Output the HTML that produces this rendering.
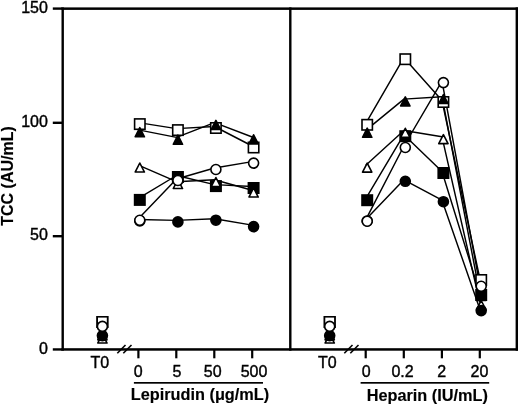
<!DOCTYPE html>
<html><head><meta charset="utf-8"><style>
html,body{margin:0;padding:0;background:#fff;width:520px;height:406px;overflow:hidden}
svg{display:block;filter:grayscale(1)}
</style></head><body>
<svg width="520" height="406" viewBox="0 0 520 406"><g fill="#000">
<rect x="61.50" y="7.40" width="456.50" height="2.50"/>
<rect x="61.50" y="7.40" width="2.40" height="343.30"/>
<rect x="289.10" y="7.40" width="2.40" height="343.30"/>
<rect x="515.60" y="7.40" width="2.40" height="343.30"/>
<rect x="61.50" y="348.20" width="456.50" height="2.50"/>
<rect x="52.80" y="7.40" width="9.20" height="2.40"/>
<rect x="52.80" y="121.60" width="9.20" height="2.40"/>
<rect x="52.80" y="235.00" width="9.20" height="2.40"/>
<rect x="52.80" y="348.25" width="9.20" height="2.40"/>
<rect x="137.30" y="349.00" width="2.20" height="9.30"/>
<rect x="175.20" y="349.00" width="2.20" height="9.30"/>
<rect x="213.20" y="349.00" width="2.20" height="9.30"/>
<rect x="251.10" y="349.00" width="2.20" height="9.30"/>
<rect x="364.60" y="349.00" width="2.20" height="9.30"/>
<rect x="402.70" y="349.00" width="2.20" height="9.30"/>
<rect x="440.80" y="349.00" width="2.20" height="9.30"/>
<rect x="478.70" y="349.00" width="2.20" height="9.30"/>
<rect x="133.90" y="382.00" width="129.10" height="1.70"/>
<rect x="360.60" y="382.00" width="128.60" height="1.70"/>
</g>
<line x1="117.30" y1="353.2" x2="125.50" y2="345.0" stroke="#000" stroke-width="1.6"/><line x1="123.30" y1="353.2" x2="131.50" y2="345.0" stroke="#000" stroke-width="1.6"/>
<line x1="344.30" y1="353.2" x2="352.50" y2="345.0" stroke="#000" stroke-width="1.6"/><line x1="350.30" y1="353.2" x2="358.50" y2="345.0" stroke="#000" stroke-width="1.6"/>
<text x="47.9" y="12.8" text-anchor="end" style="font-family:'Liberation Sans',sans-serif;font-size:16px;font-weight:normal;stroke:#000;stroke-width:0.4px;" >150</text>
<text x="47.9" y="126.8" text-anchor="end" style="font-family:'Liberation Sans',sans-serif;font-size:16px;font-weight:normal;stroke:#000;stroke-width:0.4px;" >100</text>
<text x="47.9" y="239.7" text-anchor="end" style="font-family:'Liberation Sans',sans-serif;font-size:16px;font-weight:normal;stroke:#000;stroke-width:0.4px;" >50</text>
<text x="47.9" y="353.6" text-anchor="end" style="font-family:'Liberation Sans',sans-serif;font-size:16px;font-weight:normal;stroke:#000;stroke-width:0.4px;" >0</text>
<text x="99.9" y="367.6" text-anchor="middle" style="font-family:'Liberation Sans',sans-serif;font-size:16px;font-weight:normal;stroke:#000;stroke-width:0.4px;" >T0</text>
<text x="327.3" y="367.8" text-anchor="middle" style="font-family:'Liberation Sans',sans-serif;font-size:16px;font-weight:normal;stroke:#000;stroke-width:0.4px;" >T0</text>
<text x="138.1" y="377.2" text-anchor="middle" style="font-family:'Liberation Sans',sans-serif;font-size:16px;font-weight:normal;stroke:#000;stroke-width:0.4px;" >0</text>
<text x="177.0" y="377.2" text-anchor="middle" style="font-family:'Liberation Sans',sans-serif;font-size:16px;font-weight:normal;stroke:#000;stroke-width:0.4px;" >5</text>
<text x="212.7" y="377.2" text-anchor="middle" style="font-family:'Liberation Sans',sans-serif;font-size:16px;font-weight:normal;stroke:#000;stroke-width:0.4px;" >50</text>
<text x="254.0" y="377.2" text-anchor="middle" style="font-family:'Liberation Sans',sans-serif;font-size:16px;font-weight:normal;stroke:#000;stroke-width:0.4px;" >500</text>
<text x="366.1" y="377.3" text-anchor="middle" style="font-family:'Liberation Sans',sans-serif;font-size:16px;font-weight:normal;stroke:#000;stroke-width:0.4px;" >0</text>
<text x="402.5" y="377.3" text-anchor="middle" style="font-family:'Liberation Sans',sans-serif;font-size:16px;font-weight:normal;stroke:#000;stroke-width:0.4px;" >0.2</text>
<text x="441.6" y="377.3" text-anchor="middle" style="font-family:'Liberation Sans',sans-serif;font-size:16px;font-weight:normal;stroke:#000;stroke-width:0.4px;" >2</text>
<text x="479.4" y="377.3" text-anchor="middle" style="font-family:'Liberation Sans',sans-serif;font-size:16px;font-weight:normal;stroke:#000;stroke-width:0.4px;" >20</text>
<text x="200.0" y="400.2" text-anchor="middle" style="font-family:'Liberation Sans',sans-serif;font-size:16.3px;font-weight:bold;stroke:#000;stroke-width:0.15px;" >Lepirudin (&#956;g/mL)</text>
<text x="427.3" y="400.8" text-anchor="middle" style="font-family:'Liberation Sans',sans-serif;font-size:16.3px;font-weight:bold;stroke:#000;stroke-width:0.15px;" >Heparin (IU/mL)</text>
<text x="0" y="0" text-anchor="middle" style="font-family:'Liberation Sans',sans-serif;font-size:16px;font-weight:bold;stroke:#000;stroke-width:0.15px;" transform="translate(13.0,176.0) rotate(-90)">TCC (AU/mL)</text>
<polyline points="138.40,122.60 176.50,128.60 214.50,126.50 252.20,146.00" fill="none" stroke="#000" stroke-width="1.45" stroke-linejoin="round"/>
<polyline points="365.80,123.30 403.90,57.70 442.00,100.50 479.80,278.50" fill="none" stroke="#000" stroke-width="1.45" stroke-linejoin="round"/>
<polyline points="138.40,198.40 176.50,175.50 214.50,184.60 252.20,186.50" fill="none" stroke="#000" stroke-width="1.45" stroke-linejoin="round"/>
<polyline points="365.80,198.70 403.90,134.70 442.00,171.50 479.80,293.50" fill="none" stroke="#000" stroke-width="1.45" stroke-linejoin="round"/>
<polyline points="138.40,129.90 176.50,137.40 214.50,122.60 252.20,137.00" fill="none" stroke="#000" stroke-width="1.45" stroke-linejoin="round"/>
<polyline points="365.80,130.40 403.90,99.10 442.00,96.70 479.80,293.70" fill="none" stroke="#000" stroke-width="1.45" stroke-linejoin="round"/>
<polyline points="138.40,165.20 176.50,181.70 214.50,179.70 252.20,190.20" fill="none" stroke="#000" stroke-width="1.45" stroke-linejoin="round"/>
<polyline points="365.80,165.30 403.90,130.50 442.00,136.80 479.80,302.70" fill="none" stroke="#000" stroke-width="1.45" stroke-linejoin="round"/>
<polyline points="138.40,219.50 176.50,220.40 214.50,218.70 252.20,225.10" fill="none" stroke="#000" stroke-width="1.45" stroke-linejoin="round"/>
<polyline points="365.80,219.50 403.90,179.80 442.00,200.20 479.80,309.10" fill="none" stroke="#000" stroke-width="1.45" stroke-linejoin="round"/>
<polyline points="138.40,218.80 176.50,179.00 214.50,168.00 252.20,161.60" fill="none" stroke="#000" stroke-width="1.45" stroke-linejoin="round"/>
<polyline points="365.80,219.70 403.90,146.00 442.00,81.10 479.80,284.80" fill="none" stroke="#000" stroke-width="1.45" stroke-linejoin="round"/>
<rect x="134.60" y="118.90" width="10.40" height="10.40" fill="#fff" stroke="#000" stroke-width="1.6"/>
<rect x="172.70" y="124.90" width="10.40" height="10.40" fill="#fff" stroke="#000" stroke-width="1.6"/>
<rect x="210.70" y="122.80" width="10.40" height="10.40" fill="#fff" stroke="#000" stroke-width="1.6"/>
<rect x="248.40" y="142.30" width="10.40" height="10.40" fill="#fff" stroke="#000" stroke-width="1.6"/>
<rect x="362.00" y="119.60" width="10.40" height="10.40" fill="#fff" stroke="#000" stroke-width="1.6"/>
<rect x="400.10" y="54.00" width="10.40" height="10.40" fill="#fff" stroke="#000" stroke-width="1.6"/>
<rect x="438.20" y="96.80" width="10.40" height="10.40" fill="#fff" stroke="#000" stroke-width="1.6"/>
<rect x="476.00" y="274.80" width="10.40" height="10.40" fill="#fff" stroke="#000" stroke-width="1.6"/>
<rect x="134.60" y="194.70" width="10.40" height="10.40" fill="#000" stroke="#000" stroke-width="1.6"/>
<rect x="172.70" y="171.80" width="10.40" height="10.40" fill="#000" stroke="#000" stroke-width="1.6"/>
<rect x="210.70" y="180.90" width="10.40" height="10.40" fill="#000" stroke="#000" stroke-width="1.6"/>
<rect x="248.40" y="182.80" width="10.40" height="10.40" fill="#000" stroke="#000" stroke-width="1.6"/>
<rect x="362.00" y="195.00" width="10.40" height="10.40" fill="#000" stroke="#000" stroke-width="1.6"/>
<rect x="400.10" y="131.00" width="10.40" height="10.40" fill="#000" stroke="#000" stroke-width="1.6"/>
<rect x="438.20" y="167.80" width="10.40" height="10.40" fill="#000" stroke="#000" stroke-width="1.6"/>
<rect x="476.00" y="289.80" width="10.40" height="10.40" fill="#000" stroke="#000" stroke-width="1.6"/>
<polygon points="139.80,127.70 144.45,136.75 135.15,136.75" fill="#000" stroke="#000" stroke-width="1.6" stroke-linejoin="round"/>
<polygon points="177.90,135.20 182.55,144.25 173.25,144.25" fill="#000" stroke="#000" stroke-width="1.6" stroke-linejoin="round"/>
<polygon points="215.90,120.40 220.55,129.45 211.25,129.45" fill="#000" stroke="#000" stroke-width="1.6" stroke-linejoin="round"/>
<polygon points="253.60,134.80 258.25,143.85 248.95,143.85" fill="#000" stroke="#000" stroke-width="1.6" stroke-linejoin="round"/>
<polygon points="367.20,128.20 371.85,137.25 362.55,137.25" fill="#000" stroke="#000" stroke-width="1.6" stroke-linejoin="round"/>
<polygon points="405.30,96.90 409.95,105.95 400.65,105.95" fill="#000" stroke="#000" stroke-width="1.6" stroke-linejoin="round"/>
<polygon points="443.40,94.50 448.05,103.55 438.75,103.55" fill="#000" stroke="#000" stroke-width="1.6" stroke-linejoin="round"/>
<polygon points="481.20,291.50 485.85,300.55 476.55,300.55" fill="#000" stroke="#000" stroke-width="1.6" stroke-linejoin="round"/>
<polygon points="139.80,163.00 144.45,172.05 135.15,172.05" fill="#fff" stroke="#000" stroke-width="1.6" stroke-linejoin="round"/>
<polygon points="177.90,179.50 182.55,188.55 173.25,188.55" fill="#fff" stroke="#000" stroke-width="1.6" stroke-linejoin="round"/>
<polygon points="215.90,177.50 220.55,186.55 211.25,186.55" fill="#fff" stroke="#000" stroke-width="1.6" stroke-linejoin="round"/>
<polygon points="253.60,188.00 258.25,197.05 248.95,197.05" fill="#fff" stroke="#000" stroke-width="1.6" stroke-linejoin="round"/>
<polygon points="367.20,163.10 371.85,172.15 362.55,172.15" fill="#fff" stroke="#000" stroke-width="1.6" stroke-linejoin="round"/>
<polygon points="405.30,128.30 409.95,137.35 400.65,137.35" fill="#fff" stroke="#000" stroke-width="1.6" stroke-linejoin="round"/>
<polygon points="443.40,134.60 448.05,143.65 438.75,143.65" fill="#fff" stroke="#000" stroke-width="1.6" stroke-linejoin="round"/>
<polygon points="481.20,300.50 485.85,309.55 476.55,309.55" fill="#fff" stroke="#000" stroke-width="1.6" stroke-linejoin="round"/>
<circle cx="139.80" cy="221.00" r="5.00" fill="#000" stroke="#000" stroke-width="1.6"/>
<circle cx="177.90" cy="221.90" r="5.00" fill="#000" stroke="#000" stroke-width="1.6"/>
<circle cx="215.90" cy="220.20" r="5.00" fill="#000" stroke="#000" stroke-width="1.6"/>
<circle cx="253.60" cy="226.60" r="5.00" fill="#000" stroke="#000" stroke-width="1.6"/>
<circle cx="367.20" cy="221.00" r="5.00" fill="#000" stroke="#000" stroke-width="1.6"/>
<circle cx="405.30" cy="181.30" r="5.00" fill="#000" stroke="#000" stroke-width="1.6"/>
<circle cx="443.40" cy="201.70" r="5.00" fill="#000" stroke="#000" stroke-width="1.6"/>
<circle cx="481.20" cy="310.60" r="5.00" fill="#000" stroke="#000" stroke-width="1.6"/>
<circle cx="139.80" cy="220.30" r="5.00" fill="#fff" stroke="#000" stroke-width="1.6"/>
<circle cx="177.90" cy="180.50" r="5.00" fill="#fff" stroke="#000" stroke-width="1.6"/>
<circle cx="215.90" cy="169.50" r="5.00" fill="#fff" stroke="#000" stroke-width="1.6"/>
<circle cx="253.60" cy="163.10" r="5.00" fill="#fff" stroke="#000" stroke-width="1.6"/>
<circle cx="367.20" cy="221.20" r="5.00" fill="#fff" stroke="#000" stroke-width="1.6"/>
<circle cx="405.30" cy="147.50" r="5.00" fill="#fff" stroke="#000" stroke-width="1.6"/>
<circle cx="443.40" cy="82.60" r="5.00" fill="#fff" stroke="#000" stroke-width="1.6"/>
<circle cx="481.20" cy="286.30" r="5.00" fill="#fff" stroke="#000" stroke-width="1.6"/>
<rect x="97.20" y="316.80" width="10.40" height="10.40" fill="#000" stroke="#000" stroke-width="1.6"/>
<rect x="324.50" y="316.80" width="10.40" height="10.40" fill="#000" stroke="#000" stroke-width="1.6"/>
<rect x="97.20" y="316.80" width="10.40" height="10.40" fill="#fff" stroke="#000" stroke-width="1.6"/>
<rect x="324.50" y="316.80" width="10.40" height="10.40" fill="#fff" stroke="#000" stroke-width="1.6"/>
<polygon points="102.40,334.00 107.05,343.05 97.75,343.05" fill="#fff" stroke="#000" stroke-width="1.6" stroke-linejoin="round"/>
<polygon points="329.70,334.00 334.35,343.05 325.05,343.05" fill="#fff" stroke="#000" stroke-width="1.6" stroke-linejoin="round"/>
<polygon points="102.40,330.80 107.05,339.85 97.75,339.85" fill="#000" stroke="#000" stroke-width="1.6" stroke-linejoin="round"/>
<polygon points="329.70,330.80 334.35,339.85 325.05,339.85" fill="#000" stroke="#000" stroke-width="1.6" stroke-linejoin="round"/>
<circle cx="102.40" cy="335.60" r="5.00" fill="#000" stroke="#000" stroke-width="1.6"/>
<circle cx="329.70" cy="335.60" r="5.00" fill="#000" stroke="#000" stroke-width="1.6"/>
<circle cx="102.40" cy="326.40" r="5.00" fill="#fff" stroke="#000" stroke-width="1.6"/>
<circle cx="329.70" cy="326.40" r="5.00" fill="#fff" stroke="#000" stroke-width="1.6"/></svg>
</body></html>
